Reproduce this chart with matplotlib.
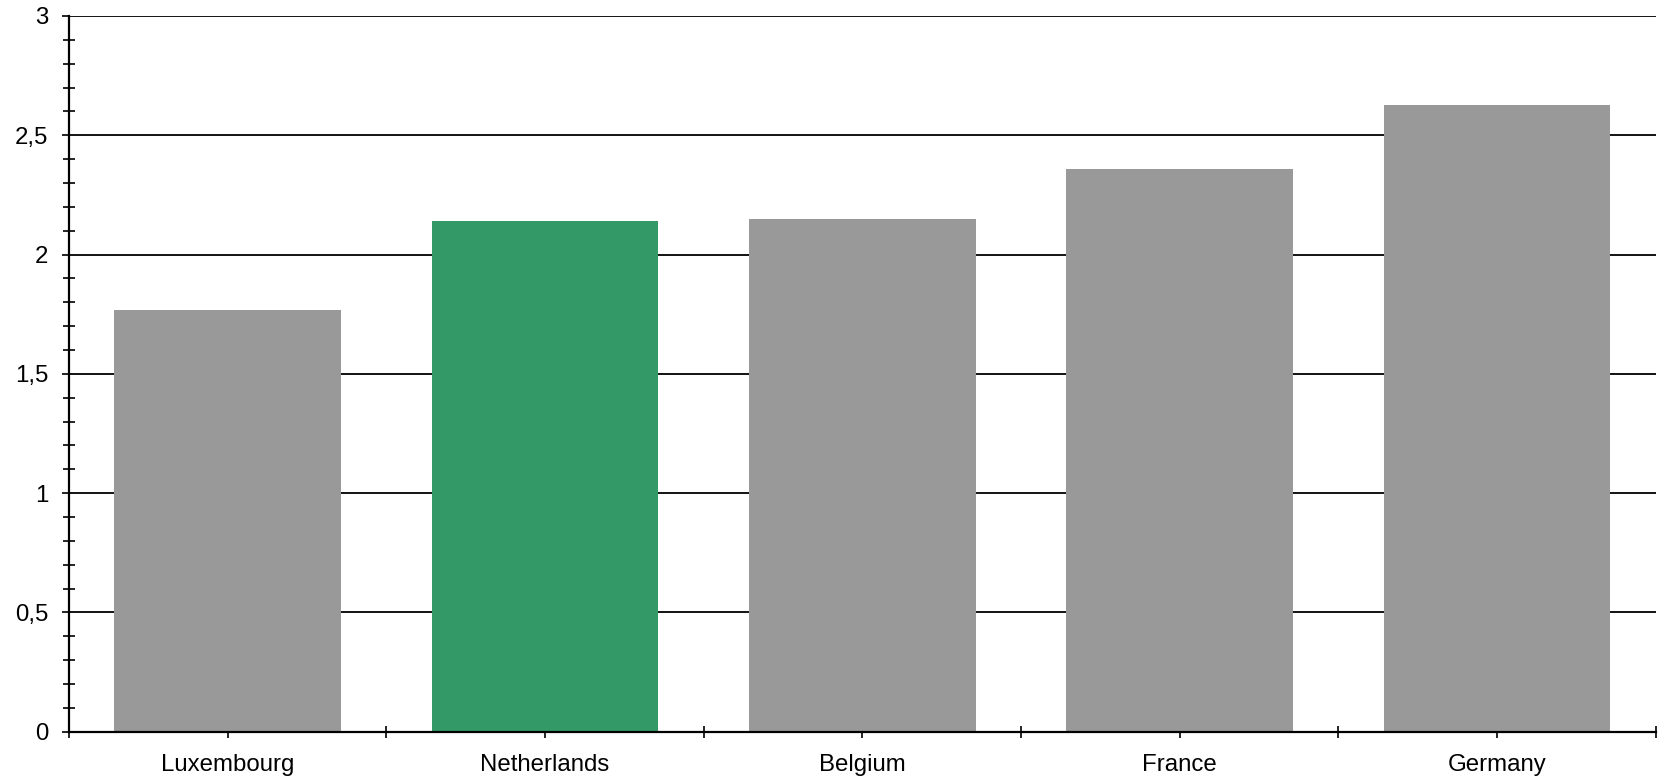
import matplotlib.pyplot as plt
import numpy as np

# data
countries = ['Luxembourg', 'Netherlands', 'Belgium', 'France', 'Germany']
values = [1.767, 2.140, 2.149, 2.358, 2.627]
colors = ['#999999', '#339966', '#999999', '#999999', '#999999']
y_ticks = [0, 0.5, 1, 1.5, 2, 2.5, 3]
y_labels = ['0', '0,5', '1', '1,5', '2', '2,5', '3']

plt.rcParams['font.family'] = ['Liberation Sans', 'DejaVu Sans']

fig = plt.figure(figsize=(16.64, 7.76), dpi=100)
ax = fig.add_axes([0.0415, 0.0571, 0.9535, 0.9223])

x = np.arange(len(countries))
ax.bar(x, values, width=0.715, color=colors, zorder=3)

ax.set_xlim(-0.5, len(countries) - 0.5)
ax.set_ylim(0, 3)

# y axis: major with gridlines, minor crossing ticks
ax.set_yticks(y_ticks)
ax.set_yticklabels(y_labels, fontsize=17.3)
ax.set_yticks(np.arange(0, 3.01, 0.1), minor=True)
ax.yaxis.grid(True, which='major', color='black', linewidth=1.3, zorder=1)
ax.tick_params(axis='y', which='major', direction='out', length=5, width=1.2, pad=10)
ax.tick_params(axis='y', which='minor', direction='inout', length=9, width=1.2)

# x axis: category ticks at centres and boundaries
ax.set_xticks(x)
ax.set_xticklabels(countries, fontsize=17.3)
ax.set_xticks(np.arange(-0.5, len(countries), 1.0), minor=True)
ax.tick_params(axis='x', which='both', direction='inout', length=8, width=1.2, pad=12)

for side in ['top', 'right']:
    ax.spines[side].set_visible(False)
for side in ['left', 'bottom']:
    ax.spines[side].set_linewidth(1.6)
    ax.spines[side].set_zorder(4)

fig.savefig('out.png', dpi=100)
